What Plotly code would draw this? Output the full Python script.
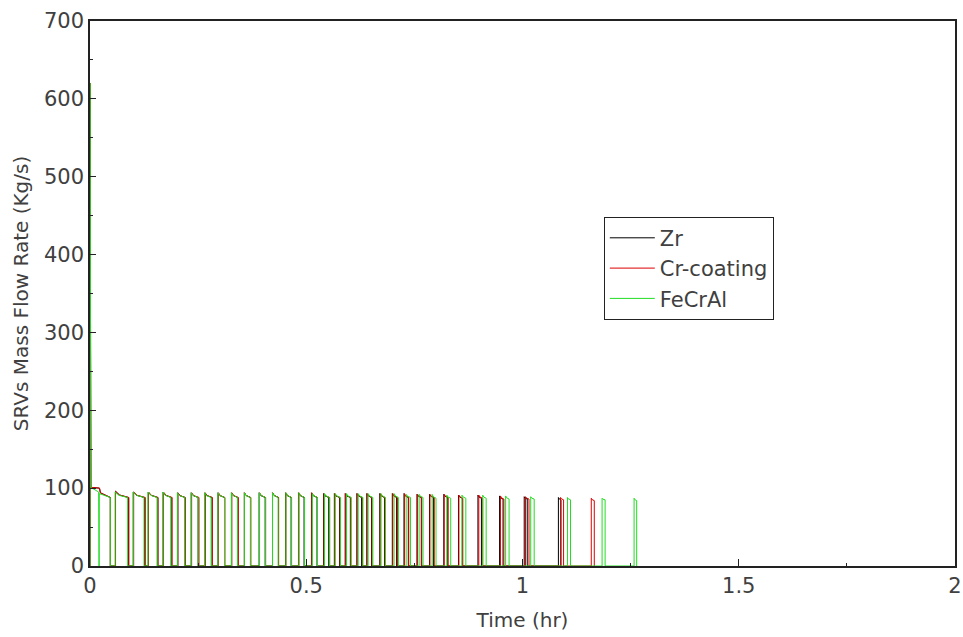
import plotly.graph_objects as go

# Safety relief valve (SRV) cycling after the initial blowdown, per cladding type.
# Each series: start-up blowdown trace, then valve pulses (open time, open duration,
# flow right after opening, flow just before closing).

startup_time = [0.0, 0.0, 0.002, 0.022, 0.024, 0.047, 0.047]
startup_flow = [0, 620, 101, 100, 94, 88, 0]

fecral_startup_time = [0.0, 0.0, 0.002, 0.020, 0.021, 0.0215, 0.047, 0.047]
fecral_startup_flow = [0, 620, 101, 95, 0, 93, 88, 0]

zr_open = [0.059, 0.100, 0.135, 0.169, 0.203, 0.234, 0.266, 0.296, 0.327, 0.357,
           0.391, 0.422, 0.452, 0.482, 0.512, 0.540, 0.565, 0.590, 0.617, 0.640,
           0.670, 0.699, 0.726, 0.756, 0.785, 0.818, 0.852, 0.897, 0.947, 1.004,
           1.083]
zr_dur = [0.030, 0.026, 0.022, 0.019, 0.017, 0.016, 0.016, 0.015, 0.015, 0.014,
          0.014, 0.014, 0.013, 0.013, 0.013, 0.012, 0.012, 0.012, 0.011, 0.011,
          0.011, 0.010, 0.010, 0.010, 0.009, 0.009, 0.009, 0.008, 0.008, 0.007,
          0.006]
zr_peak = [96, 95, 95, 95, 94, 94, 94, 94, 94, 94, 94, 94, 94, 94, 94, 93, 93, 93,
           93, 93, 93, 93, 93, 92, 92, 92, 91, 91, 90, 89, 88]
zr_close = [88, 88, 88, 88, 88, 88, 88, 88, 88, 88, 88, 88, 88, 88, 88, 88, 88, 88,
            88, 88, 88, 88, 88, 88, 88, 88, 87, 87, 86, 86, 85]

cr_open = [0.059, 0.101, 0.135, 0.170, 0.203, 0.235, 0.266, 0.297, 0.328, 0.357,
           0.392, 0.422, 0.453, 0.483, 0.513, 0.541, 0.566, 0.591, 0.618, 0.641,
           0.671, 0.700, 0.727, 0.757, 0.786, 0.819, 0.853, 0.899, 0.949, 1.007,
           1.088, 1.159]
cr_dur = [0.031, 0.027, 0.022, 0.020, 0.017, 0.017, 0.017, 0.015, 0.015, 0.015,
          0.014, 0.014, 0.013, 0.013, 0.013, 0.013, 0.012, 0.012, 0.012, 0.011,
          0.011, 0.011, 0.010, 0.010, 0.010, 0.009, 0.009, 0.009, 0.008, 0.008,
          0.007, 0.007]
cr_peak = [96, 95, 95, 95, 94, 94, 94, 94, 94, 94, 94, 94, 94, 94, 94, 93, 93, 93,
           93, 93, 93, 93, 93, 92, 92, 92, 91, 91, 90, 89, 88, 87]
cr_close = [88, 88, 88, 88, 88, 88, 88, 88, 88, 88, 88, 88, 88, 88, 88, 88, 88, 88,
            88, 88, 88, 88, 88, 88, 88, 88, 87, 87, 86, 86, 85, 84]

fecral_open = [0.058, 0.100, 0.134, 0.169, 0.202, 0.234, 0.265, 0.296, 0.327, 0.357,
               0.392, 0.422, 0.453, 0.483, 0.514, 0.542, 0.567, 0.593, 0.620, 0.643,
               0.673, 0.703, 0.731, 0.761, 0.791, 0.825, 0.860, 0.908, 0.961, 1.019,
               1.104, 1.184, 1.258]
fecral_dur = [0.029, 0.025, 0.021, 0.018, 0.017, 0.016, 0.015, 0.015, 0.014, 0.014,
              0.014, 0.013, 0.013, 0.013, 0.012, 0.012, 0.012, 0.011, 0.011, 0.011,
              0.010, 0.010, 0.010, 0.009, 0.009, 0.009, 0.009, 0.008, 0.008, 0.008,
              0.007, 0.007, 0.006]
fecral_peak = [95, 95, 95, 95, 94, 94, 94, 94, 94, 94, 94, 94, 94, 94, 93, 93, 93, 93,
               93, 93, 93, 93, 92, 92, 92, 91, 91, 91, 90, 89, 88, 87, 87]
fecral_close = [88, 88, 88, 88, 88, 88, 88, 88, 88, 88, 88, 88, 88, 88, 88, 88, 88, 88,
                88, 88, 88, 88, 88, 88, 87, 87, 87, 87, 86, 86, 85, 85, 84]

series_names = ["Zr", "Cr-coating", "FeCrAl"]
series_colors = ["#000000", "#dd0000", "#22dd22"]


def valve_trace(t0, q0, opens, durs, peaks, closes):
    """Build a step-like flow history: start-up trace, then one pulse per valve opening."""
    t = list(t0)
    q = list(q0)
    for s, d, p, c in zip(opens, durs, peaks, closes):
        mid = p - 0.6 * (p - c)
        t += [s, s, s + 0.3 * d, s + d, s + d]
        q += [0, p, mid, c, 0]
    return t, q


data = [
    valve_trace(startup_time, startup_flow, zr_open, zr_dur, zr_peak, zr_close),
    valve_trace(startup_time, startup_flow, cr_open, cr_dur, cr_peak, cr_close),
    valve_trace(fecral_startup_time, fecral_startup_flow, fecral_open, fecral_dur,
                fecral_peak, fecral_close),
]

FONT = "DejaVu Sans"
TXT = "#404040"

fig = go.Figure()
for (t, q), name, col in zip(data, series_names, series_colors):
    fig.add_trace(go.Scatter(
        x=t, y=q, mode="lines", name=name, legendgroup=name,
        line=dict(color=col, width=1),
    ))

axis_common = dict(
    showline=True, linecolor="#222222", linewidth=1.5, mirror=True,
    ticks="inside", tickcolor="#222222", showgrid=False, zeroline=False,
    tickfont=dict(family=FONT, size=21, color=TXT),
    automargin=False, ticklabeloverflow="allow",
)

fig.update_layout(
    width=963, height=637,
    margin=dict(l=90, r=8, t=21, b=71),
    paper_bgcolor="white", plot_bgcolor="white",
    font=dict(family=FONT, size=19, color=TXT),
    xaxis=dict(
        range=[0, 2], dtick=0.5, ticklen=7, tickwidth=1,
        minor=dict(dtick=0.25, ticks="inside", ticklen=3, tickcolor="#222222"),
        title=dict(text="Time (hr)", font=dict(family=FONT, size=20, color=TXT), standoff=16),
        **axis_common,
    ),
    yaxis=dict(
        range=[0, 700], dtick=100, ticklen=6, tickwidth=1,
        minor=dict(dtick=50, ticks="inside", ticklen=3, tickcolor="#222222"),
        title=dict(text="SRVs Mass Flow Rate (Kg/s)", font=dict(family=FONT, size=20, color=TXT), standoff=10),
        **axis_common,
    ),
    legend=dict(
        x=0.594, y=0.641, xanchor="left", yanchor="top",
        bgcolor="white", bordercolor="#222222", borderwidth=1,
        font=dict(family=FONT, size=21, color=TXT),
        tracegroupgap=12, traceorder="normal", itemwidth=45,
    ),
    showlegend=True,
)

fig.write_html("out.html")
